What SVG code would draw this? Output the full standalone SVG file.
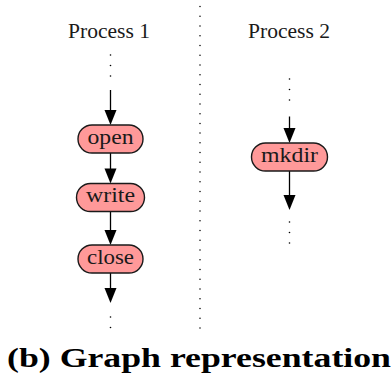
<svg xmlns="http://www.w3.org/2000/svg" width="392" height="392" viewBox="0 0 392 392">
  <style>
    .title { font-family: "Liberation Serif", "DejaVu Serif", serif; font-size: 20px; fill: #1a1a1a; }
    .label { font-family: "Liberation Serif", "DejaVu Serif", serif; font-size: 21px; fill: #1a1a1a; }
    .caption { font-family: "Liberation Serif", "DejaVu Serif", serif; font-size: 28px; font-weight: bold; fill: #000; }
    .node rect { fill: #ff9999; stroke: #1a1a1a; stroke-width: 1.4; }
    .edge { stroke: #000; stroke-width: 1.3; fill: none; }
    .head { fill: #000; stroke: none; }
    .dots { fill: #000; }
    .sep { stroke: #000; stroke-width: 1.5; stroke-linecap: round; stroke-dasharray: 0 9.74; fill: none; }
  </style>

  <!-- column headers -->
  <text class="title" x="68" y="38" textLength="82" lengthAdjust="spacingAndGlyphs">Process 1</text>
  <text class="title" x="248" y="38" textLength="82" lengthAdjust="spacingAndGlyphs">Process 2</text>

  <!-- separator between the two processes -->
  <line class="sep" x1="200" y1="6.5" x2="200" y2="328.5"/>

  <!-- connectors -->
  <g id="connectors">
    <!-- continuation dots -->
    <g class="dots">
      <circle cx="110.5" cy="55" r="0.8"/>
      <circle cx="110.5" cy="65.5" r="0.8"/>
      <circle cx="110.5" cy="76" r="0.8"/>
      <circle cx="110.5" cy="317" r="0.8"/>
      <circle cx="110.5" cy="327.5" r="0.8"/>
      <circle cx="289.5" cy="79" r="0.8"/>
      <circle cx="289.5" cy="89.5" r="0.8"/>
      <circle cx="289.5" cy="100" r="0.8"/>
      <circle cx="289.5" cy="222" r="0.8"/>
      <circle cx="289.5" cy="232.5" r="0.8"/>
      <circle cx="289.5" cy="243" r="0.8"/>
    </g>
    <!-- process 1 chain -->
    <line class="edge" x1="110.5" y1="90" x2="110.5" y2="111"/>
    <polygon class="head" points="104.5,110 116.5,110 110.5,125"/>
    <line class="edge" x1="110.5" y1="153" x2="110.5" y2="169"/>
    <polygon class="head" points="104.5,168.5 116.5,168.5 110.5,183.5"/>
    <line class="edge" x1="110.5" y1="211.5" x2="110.5" y2="231"/>
    <polygon class="head" points="104.5,230 116.5,230 110.5,245"/>
    <line class="edge" x1="110.5" y1="273" x2="110.5" y2="289"/>
    <polygon class="head" points="104.5,288 116.5,288 110.5,303"/>
    <!-- process 2 chain -->
    <line class="edge" x1="289.5" y1="116.5" x2="289.5" y2="129"/>
    <polygon class="head" points="283.5,128 295.5,128 289.5,143"/>
    <line class="edge" x1="289.5" y1="171" x2="289.5" y2="196"/>
    <polygon class="head" points="283.5,195 295.5,195 289.5,210"/>
  </g>

  <!-- nodes -->
  <g id="open" class="node">
    <rect x="78" y="125" width="65" height="28" rx="14"/>
    <text class="label" x="87.5" y="143.5" textLength="46" lengthAdjust="spacingAndGlyphs">open</text>
  </g>
  <g id="write" class="node">
    <rect x="76.5" y="183.5" width="68" height="28" rx="14"/>
    <text class="label" x="86" y="202" textLength="49" lengthAdjust="spacingAndGlyphs">write</text>
  </g>
  <g id="close" class="node">
    <rect x="78" y="245" width="65" height="28" rx="14"/>
    <text class="label" x="87" y="263.5" textLength="47" lengthAdjust="spacingAndGlyphs">close</text>
  </g>
  <g id="mkdir" class="node">
    <rect x="251.5" y="143" width="76" height="28" rx="14"/>
    <text class="label" x="261" y="161.5" textLength="57" lengthAdjust="spacingAndGlyphs">mkdir</text>
  </g>

  <!-- caption -->
  <text class="caption" x="7" y="367" textLength="384" lengthAdjust="spacingAndGlyphs">(b) Graph representation</text>
</svg>
